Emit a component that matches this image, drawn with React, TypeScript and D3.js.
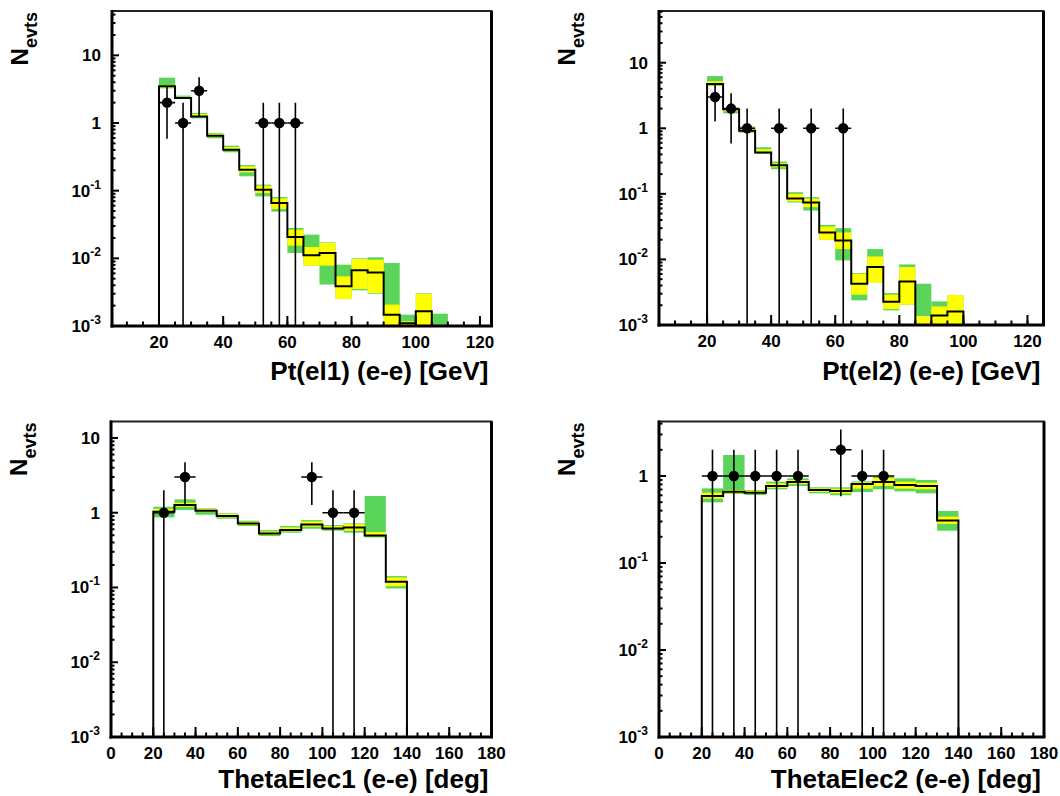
import React from "react";
import * as d3 from "d3";

// ---------- Pt(el1) ----------
const pt1BinLow = [20, 25, 30, 35, 40, 45, 50, 55, 60, 65, 70, 75, 80, 85, 90, 95, 100, 105];
const pt1Mc = [3.48, 2.34, 1.25, 0.65, 0.404, 0.204, 0.1035, 0.0657, 0.0207, 0.0111, 0.012, 0.00386, 0.00665, 0.0062, 0.00147, 0.0011, 0.00165, 0.0005];
const pt1YelLo = [3.33, 2.29, 1.23, 0.628, 0.395, 0.187, 0.0923, 0.0536, 0.0154, 0.0078, 0.0078, 0.0025, 0.00352, 0.00307, 0.0009, 0.0009, 0.0009, 0.0005];
const pt1YelHi = [3.64, 2.45, 1.36, 0.696, 0.442, 0.229, 0.1185, 0.077, 0.0265, 0.0147, 0.0169, 0.00542, 0.00977, 0.00955, 0.00207, 0.00117, 0.003, 0.0005];
const pt1GrnLo = [3.25, 2.26, 1.17, 0.593, 0.369, 0.163, 0.0824, 0.049, 0.012, 0.0078, 0.0041, 0.0025, 0.00337, 0.003, 0.0009, 0.0009, 0.0009, 0.0009];
const pt1GrnHi = [4.68, 2.54, 1.41, 0.712, 0.462, 0.239, 0.1227, 0.0806, 0.0281, 0.0224, 0.0172, 0.00806, 0.01, 0.01035, 0.00853, 0.00147, 0.00304, 0.00152];
const pt1DataX = [22.5, 27.5, 32.5, 52.5, 57.5, 62.5];
const pt1DataN = [2, 1, 3, 1, 1, 1];

// ---------- Pt(el2) ----------
const pt2BinLow = [20, 25, 30, 35, 40, 45, 50, 55, 60, 65, 70, 75, 80, 85, 90, 95];
const pt2Mc = [4.73, 1.95, 0.921, 0.426, 0.273, 0.0849, 0.0738, 0.0258, 0.0195, 0.00426, 0.00764, 0.00227, 0.00462, 0.0008, 0.00139, 0.00161];
const pt2YelLo = [4.52, 1.82, 0.9, 0.416, 0.2547, 0.0764, 0.0626, 0.0199, 0.01437, 0.0029, 0.00447, 0.00175, 0.00204, 0.0009, 0.0009, 0.0009];
const pt2YelHi = [5.2, 1.99, 1.036, 0.479, 0.293, 0.1, 0.0849, 0.0318, 0.0258, 0.00605, 0.0111, 0.0029, 0.00764, 0.001355, 0.00192, 0.00286];
const pt2GrnLo = [4.41, 1.69, 0.859, 0.407, 0.2375, 0.0738, 0.0557, 0.0199, 0.00966, 0.00238, 0.00447, 0.00167, 0.00204, 0.001355, 0.0009, 0.0009];
const pt2GrnHi = [6.26, 2.04, 1.06, 0.514, 0.311, 0.106, 0.089, 0.0337, 0.03, 0.0062, 0.01437, 0.00307, 0.00839, 0.00426, 0.00229, 0.00286];
const pt2DataX = [22.5, 27.5, 32.5, 42.5, 52.5, 62.5];
const pt2DataN = [3, 2, 1, 1, 1, 1];

// ---------- ThetaElec1 ----------
const th1BinLow = [20, 30, 40, 50, 60, 70, 80, 90, 100, 110, 120, 130];
const th1Mc = [1.031, 1.267, 1.064, 0.902, 0.72, 0.529, 0.586, 0.698, 0.617, 0.636, 0.497, 0.119];
const th1YelLo = [1.0, 1.203, 1.021, 0.866, 0.684, 0.507, 0.562, 0.649, 0.598, 0.574, 0.487, 0.104];
const th1YelHi = [1.131, 1.361, 1.12, 0.96, 0.758, 0.562, 0.636, 0.765, 0.663, 0.705, 0.551, 0.136];
const th1GrnLo = [0.866, 1.086, 0.94, 0.831, 0.663, 0.487, 0.54, 0.61, 0.574, 0.54, 0.467, 0.097];
const th1GrnHi = [1.203, 1.509, 1.143, 0.98, 0.782, 0.586, 0.663, 0.797, 0.684, 0.72, 1.672, 0.142];
const th1DataX = [25, 35, 95, 105, 115];
const th1DataN = [1, 3, 3, 1, 1];

// ---------- ThetaElec2 ----------
const th2BinLow = [20, 30, 40, 50, 60, 70, 80, 90, 100, 110, 120, 130];
const th2Mc = [0.589, 0.66, 0.643, 0.767, 0.853, 0.69, 0.673, 0.809, 0.853, 0.788, 0.767, 0.307];
const th2YelLo = [0.549, 0.632, 0.621, 0.728, 0.809, 0.655, 0.632, 0.715, 0.767, 0.715, 0.703, 0.281];
const th2YelHi = [0.643, 0.69, 0.678, 0.823, 0.9, 0.721, 0.715, 0.846, 0.948, 0.861, 0.838, 0.341];
const th2GrnLo = [0.498, 0.621, 0.605, 0.703, 0.767, 0.632, 0.6, 0.655, 0.703, 0.667, 0.632, 0.235];
const th2GrnHi = [0.721, 1.743, 0.69, 0.861, 0.94, 0.741, 0.741, 0.868, 0.982, 0.94, 0.9, 0.396];
const th2DataX = [25, 35, 45, 55, 65, 85, 95, 105];
const th2DataN = [1, 1, 1, 1, 1, 2, 1, 1];

// ---------- tick labels ----------
const ptTicks = [20, 40, 60, 80, 100, 120];
const thetaTicks = [0, 20, 40, 60, 80, 100, 120, 140, 160, 180];
const decadeTicks = [1e-3, 1e-2, 1e-1, 1, 10];

const FONT = "'Liberation Sans', Arial, Helvetica, sans-serif";
const GREEN = "#5ad55a";
const YELLOW = "#ffff00";

type PanelCfg = {
  id: string;
  left: number; right: number; top: number; bottom: number;
  xDomain: [number, number];
  yMax: number;
  binLow: number[]; binW: number;
  mc: number[]; yelLo: number[]; yelHi: number[]; grnLo: number[]; grnHi: number[];
  dataX: number[]; dataN: number[];
  xTicks: number[];
  title: string;
  titleDy: number;
};

const panels: PanelCfg[] = [
  {
    id: "p1", left: 112, right: 491.5, top: 11, bottom: 326,
    xDomain: [5.36, 123.6], yMax: 45.2,
    binLow: pt1BinLow, binW: 5, mc: pt1Mc, yelLo: pt1YelLo, yelHi: pt1YelHi, grnLo: pt1GrnLo, grnHi: pt1GrnHi,
    dataX: pt1DataX, dataN: pt1DataN, xTicks: ptTicks, title: "Pt(el1) (e-e) [GeV]", titleDy: 54,
  },
  {
    id: "p2", left: 659, right: 1043.5, top: 11, bottom: 325,
    xDomain: [5, 125], yMax: 61.5,
    binLow: pt2BinLow, binW: 5, mc: pt2Mc, yelLo: pt2YelLo, yelHi: pt2YelHi, grnLo: pt2GrnLo, grnHi: pt2GrnHi,
    dataX: pt2DataX, dataN: pt2DataN, xTicks: ptTicks, title: "Pt(el2) (e-e) [GeV]", titleDy: 55,
  },
  {
    id: "p3", left: 111, right: 491.5, top: 421.5, bottom: 737,
    xDomain: [0, 180], yMax: 16.6,
    binLow: th1BinLow, binW: 10, mc: th1Mc, yelLo: th1YelLo, yelHi: th1YelHi, grnLo: th1GrnLo, grnHi: th1GrnHi,
    dataX: th1DataX, dataN: th1DataN, xTicks: thetaTicks, title: "ThetaElec1 (e-e) [deg]", titleDy: 51,
  },
  {
    id: "p4", left: 659, right: 1044, top: 421.5, bottom: 737,
    xDomain: [0, 180], yMax: 4.23,
    binLow: th2BinLow, binW: 10, mc: th2Mc, yelLo: th2YelLo, yelHi: th2YelHi, grnLo: th2GrnLo, grnHi: th2GrnHi,
    dataX: th2DataX, dataN: th2DataN, xTicks: thetaTicks, title: "ThetaElec2 (e-e) [deg]", titleDy: 51,
  },
];

function YLabel({ v, x, y }: { v: number; x: number; y: number }) {
  const e = Math.round(Math.log10(v));
  if (e === 0 || e === 1) {
    return (
      <text x={x} y={y + 6} textAnchor="end" fontSize={17} fontWeight="bold" fontFamily={FONT}>
        {e === 0 ? "1" : "10"}
      </text>
    );
  }
  return (
    <text x={x} y={y + 6} textAnchor="end" fontSize={17} fontWeight="bold" fontFamily={FONT}>
      <tspan>10</tspan>
      <tspan fontSize={12} dy={-8}>{String(e)}</tspan>
    </text>
  );
}

function Panel({ c }: { c: PanelCfg }) {
  const x = d3.scaleLinear().domain(c.xDomain).range([c.left, c.right]);
  const y = d3.scaleLog().domain([1e-3, c.yMax]).range([c.bottom, c.top]).clamp(true);
  const ys = (v: number) => y(Math.max(v, 1e-5));

  // step outline
  let path = `M${x(c.binLow[0])},${c.bottom}`;
  c.binLow.forEach((b, i) => {
    path += `L${x(b)},${ys(c.mc[i])}L${x(b + c.binW)},${ys(c.mc[i])}`;
  });
  path += `L${x(c.binLow[c.binLow.length - 1] + c.binW)},${c.bottom}`;

  // ticks
  const minorX: number[] = [];
  for (let t = Math.ceil(c.xDomain[0] / 5) * 5; t <= c.xDomain[1] + 1e-9; t += 5) minorX.push(t);
  const majorY = decadeTicks.filter((d) => d <= c.yMax * 1.0001);
  const minorY: number[] = [];
  decadeTicks.forEach((d) => {
    for (let k = 2; k <= 9; k++) if (d * k <= c.yMax) minorY.push(d * k);
  });

  const clipId = `clip-${c.id}`;
  const half = c.binW / 2;

  return (
    <g>
      <defs>
        <clipPath id={clipId}>
          <rect x={c.left} y={c.top} width={c.right - c.left} height={c.bottom - c.top} />
        </clipPath>
      </defs>
      <g clipPath={`url(#${clipId})`}>
        {c.binLow.map((b, i) => (
          <rect key={`g${i}`} x={x(b)} width={x(b + c.binW) - x(b)} y={ys(c.grnHi[i])}
            height={Math.max(0, ys(c.grnLo[i]) - ys(c.grnHi[i]))} fill={GREEN} />
        ))}
        {c.binLow.map((b, i) => (
          <rect key={`y${i}`} x={x(b)} width={x(b + c.binW) - x(b)} y={ys(c.yelHi[i])}
            height={Math.max(0, ys(c.yelLo[i]) - ys(c.yelHi[i]))} fill={YELLOW} />
        ))}
        <path d={path} fill="none" stroke="#000" strokeWidth={2} />
        {c.dataX.map((cx, i) => {
          const n = c.dataN[i];
          const e = Math.sqrt(n);
          return (
            <g key={`d${i}`}>
              <line x1={x(cx)} x2={x(cx)} y1={ys(n + e)} y2={ys(n - e)} stroke="#000" strokeWidth={1.6} />
              <line x1={x(cx - half)} x2={x(cx + half)} y1={ys(n)} y2={ys(n)} stroke="#000" strokeWidth={1.6} />
              <circle cx={x(cx)} cy={ys(n)} r={5.2} fill="#000" />
            </g>
          );
        })}
      </g>

      {/* frame */}
      <rect x={c.left} y={c.top} width={c.right - c.left} height={c.bottom - c.top} fill="none" stroke="#222" strokeWidth={2} />
      <line x1={c.right} x2={c.right} y1={c.top} y2={c.bottom} stroke="#000" strokeWidth={3} />
      <line x1={c.left} x2={c.left} y1={c.top - 1} y2={c.bottom + 1.5} stroke="#000" strokeWidth={3} />
      <line x1={c.left - 1.5} x2={c.right + 1.5} y1={c.bottom} y2={c.bottom} stroke="#000" strokeWidth={3} />

      {/* x ticks */}
      {minorX.map((t) => (
        <line key={`mx${t}`} x1={x(t)} x2={x(t)} y1={c.bottom} y2={c.bottom - 4.5} stroke="#000" strokeWidth={2} />
      ))}
      {c.xTicks.filter((t) => t >= c.xDomain[0] && t <= c.xDomain[1]).map((t) => (
        <g key={`Mx${t}`}>
          <line x1={x(t)} x2={x(t)} y1={c.bottom} y2={c.bottom - 10} stroke="#000" strokeWidth={2} />
          <text x={x(t)} y={c.bottom + 22} textAnchor="middle" fontSize={17} fontWeight="bold" fontFamily={FONT}>{t}</text>
        </g>
      ))}

      {/* y ticks */}
      {minorY.map((t, i) => (
        <line key={`my${i}`} x1={c.left} x2={c.left + 3.5} y1={y(t)} y2={y(t)} stroke="#000" strokeWidth={2} />
      ))}
      {majorY.map((t, i) => (
        <g key={`My${i}`}>
          <line x1={c.left} x2={c.left + 7} y1={y(t)} y2={y(t)} stroke="#000" strokeWidth={2} />
          <YLabel v={t} x={c.left - 11} y={y(t)} />
        </g>
      ))}

      {/* titles */}
      <text x={c.right - 3} y={c.bottom + c.titleDy} textAnchor="end" fontSize={26} fontWeight="bold" fontFamily={FONT}>{c.title}</text>
      <text transform={`translate(${c.left - 84},${c.top + 1}) rotate(-90)`} textAnchor="end" fontSize={24} fontWeight="bold" fontFamily={FONT}>
        <tspan>N</tspan>
        <tspan fontSize={18} dy={9}>evts</tspan>
      </text>
    </g>
  );
}

export default function App() {
  return (
    <svg width={1060} height={796} style={{ position: "absolute", left: 0, top: 0, background: "#fff" }}>
      <rect x={0} y={0} width={1060} height={796} fill="#fff" />
      {panels.map((p) => (
        <Panel key={p.id} c={p} />
      ))}
    </svg>
  );
}
